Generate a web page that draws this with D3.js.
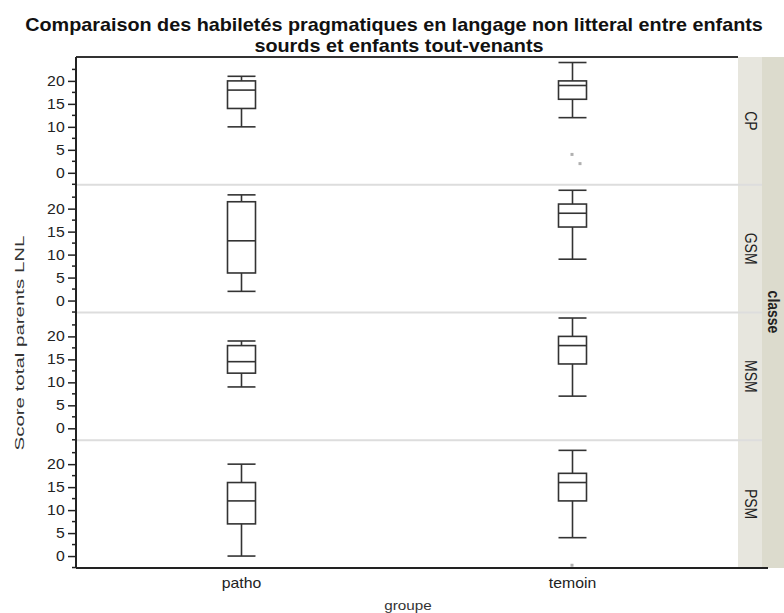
<!DOCTYPE html>
<html><head><meta charset="utf-8">
<script src="https://cdn.jsdelivr.net/npm/d3@7"></script>
<style>body{margin:0;background:#fff}svg{display:block;font-family:"Liberation Sans",Arial,sans-serif}</style>
</head><body>
<script>
const classes = ["CP","GSM","MSM","PSM"];
const groups = ["patho","temoin"];
// [min, q1, median, q3, max] per class, per group
const pathoStats = [[10,14,18,20,21],[2,6,13,21.5,23],[9,12,14.5,18,19],[0,7,12,16,20]];
const temoinStats = [[12,16,19,20,24],[9,16,19,21,24],[7,14,18,20,24],[4,12,16,18,23]];
const pathoOutliers = [[],[],[],[]];
const temoinOutliers = [[4,2],[],[],[-2]];
const yTicks = [0,5,10,15,20];
const title = ["Comparaison des habiletés pragmatiques en langage non litteral entre enfants","sourds et enfants tout-venants"];

(function(){
const W=784,H=613;
const SX=1.13; // horizontal stretch of glyphs
const svg=d3.select("body").append("svg").attr("width",W).attr("height",H);
const pL=76,pR=738,pT=57,pB=568;
const stripW=24;
const panelH=(pB-pT)/classes.length;

function txt(x,y,s,size,opts={}){
  const t=svg.append("text").attr("transform",`translate(${x},${y}) rotate(${opts.rot||0}) scale(${opts.sx||SX},1)`)
    .attr("text-anchor","middle").attr("font-size",size).attr("fill",opts.fill||"#222").text(s);
  if(opts.bold) t.attr("font-weight","bold");
  return t;
}

svg.append("rect").attr("x",pR+stripW).attr("y",pT).attr("width",W-pR-stripW).attr("height",pB-pT).attr("fill","#dcdbcd");
const x=d3.scaleBand().domain(groups).range([pL,pR]).paddingInner(0).paddingOuter(0);
const bw=28;

classes.forEach((c,i)=>{
  const y0=pT+i*panelH, y1=y0+panelH;
  const y=d3.scaleLinear().domain([-2.6,25.2]).range([y1,y0]);
  svg.append("rect").attr("x",pR).attr("y",y0).attr("width",stripW).attr("height",panelH).attr("fill","#e7e6de");
  svg.append("text").attr("transform",`translate(${pR+stripW/2-5},${(y0+y1)/2}) rotate(90) scale(1,${SX})`)
    .attr("text-anchor","middle").attr("font-size",14).attr("fill","#222").text(c);
  if(i>0) svg.append("line").attr("x1",pL).attr("x2",pR+stripW).attr("y1",y0).attr("y2",y0).attr("stroke","#dddddd").attr("stroke-width",2);
  const ax=d3.axisLeft(y).tickValues(yTicks).tickSize(8).tickPadding(2);
  const g=svg.append("g").attr("transform",`translate(${pL},0)`).call(ax);
  g.select(".domain").remove();
  g.selectAll("line").attr("stroke","#222").attr("stroke-width",1.5);
  g.selectAll("text").attr("font-size",14).attr("fill","#222").attr("font-family","Liberation Sans, Arial").attr("transform",`scale(${SX},1)`);
  const minor=[-2.5,2.5,7.5,12.5,17.5,22.5];
  svg.append("g").selectAll("line").data(minor).join("line")
    .attr("x1",pL-4).attr("x2",pL).attr("y1",d=>y(d)).attr("y2",d=>y(d)).attr("stroke","#222").attr("stroke-width",1.5);
  const stats=[pathoStats[i],temoinStats[i]];
  const outs=[pathoOutliers[i],temoinOutliers[i]];
  groups.forEach((gname,j)=>{
    const s=stats[j];
    const cx=x(gname)+x.bandwidth()/2;
    const bg=svg.append("g").attr("stroke","#333").attr("stroke-width",1.6).attr("fill","none");
    bg.append("line").attr("x1",cx).attr("x2",cx).attr("y1",y(s[0])).attr("y2",y(s[1]));
    bg.append("line").attr("x1",cx).attr("x2",cx).attr("y1",y(s[3])).attr("y2",y(s[4]));
    bg.append("line").attr("x1",cx-bw/2).attr("x2",cx+bw/2).attr("y1",y(s[0])).attr("y2",y(s[0]));
    bg.append("line").attr("x1",cx-bw/2).attr("x2",cx+bw/2).attr("y1",y(s[4])).attr("y2",y(s[4]));
    bg.append("rect").attr("x",cx-bw/2).attr("y",y(s[3])).attr("width",bw).attr("height",y(s[1])-y(s[3]));
    bg.append("line").attr("x1",cx-bw/2).attr("x2",cx+bw/2).attr("y1",y(s[2])).attr("y2",y(s[2]));
    outs[j].forEach((v,k)=>{
      svg.append("rect").attr("x",cx-2+k*8).attr("y",y(v)-1.5).attr("width",3).attr("height",3).attr("fill","#b0b0b0");
    });
  });
});

svg.append("line").attr("x1",pL).attr("x2",pR).attr("y1",pT).attr("y2",pT).attr("stroke","#333").attr("stroke-width",2);
svg.append("line").attr("x1",pL).attr("x2",pL).attr("y1",pT).attr("y2",pB).attr("stroke","#222").attr("stroke-width",2);
svg.append("line").attr("x1",pL).attr("x2",pR+stripW+6).attr("y1",pB).attr("y2",pB).attr("stroke","#222").attr("stroke-width",2);

groups.forEach(gname=>{ txt(x(gname)+x.bandwidth()/2,588,gname,14); });
txt(408,610,"groupe",13.5,{fill:"#333"});
svg.append("text").attr("transform",`translate(24,343) rotate(-90)`).attr("text-anchor","middle").attr("font-size",13.5).attr("fill","#333")
  .attr("textLength",215).attr("lengthAdjust","spacingAndGlyphs").text("Score total parents LNL");
svg.append("text").attr("transform",`translate(768,312) rotate(90) scale(1,${SX})`).attr("text-anchor","middle").attr("font-size",14).attr("font-weight","bold").attr("fill","#222").text("classe");
title.forEach((t,i)=>txt(i===0?394:399,31+i*21,t,18,{bold:true,fill:"#111",sx:1.1}));
})();
</script>
</body></html>
